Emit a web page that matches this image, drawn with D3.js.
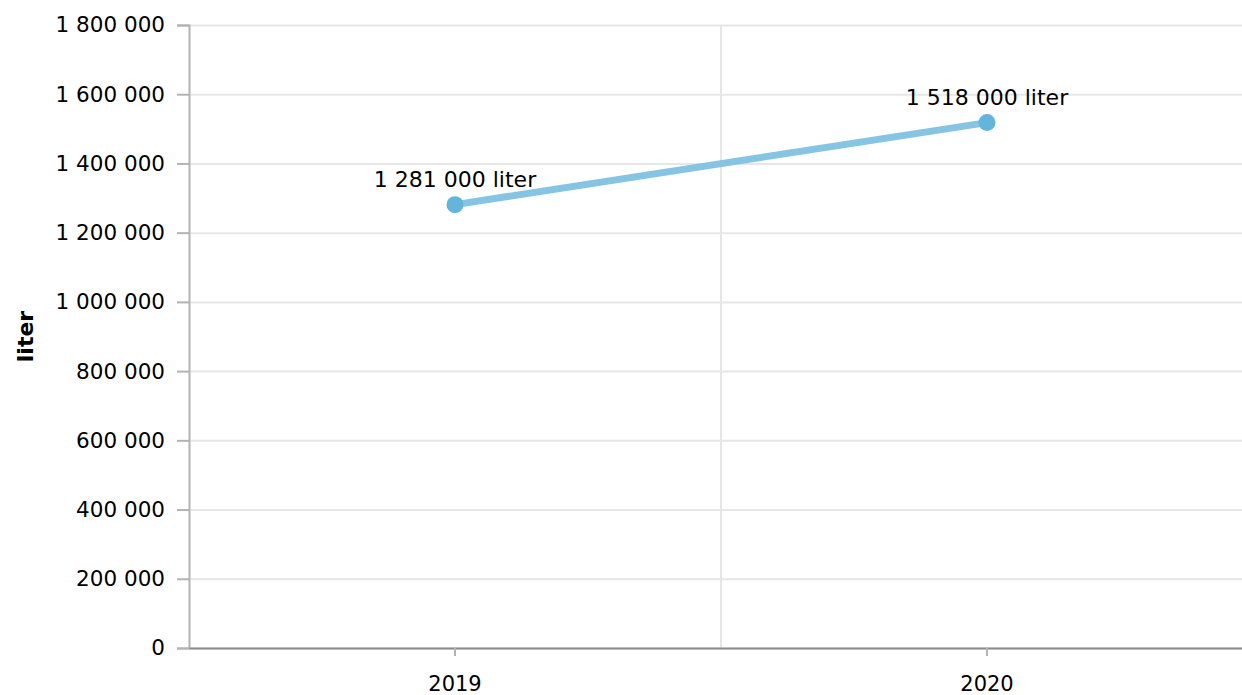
<!DOCTYPE html>
<html>
<head>
<meta charset="utf-8">
<script src="https://cdn.jsdelivr.net/npm/d3@7"></script>
<style>
  body { margin: 0; background: #fff; }
  svg, svg text { font-family: Verdana, "DejaVu Sans", sans-serif; }
  .grid line { stroke: #e6e6e6; stroke-width: 2; }
  .grid path { display: none; }
</style>
</head>
<body>
<div id="canvas"></div>
<script>
// data
var years = ['2019', '2020'];
var volumes = [1281000, 1518000];
var yTicks = [0, 200000, 400000, 600000, 800000, 1000000, 1200000, 1400000, 1600000, 1800000];
var unit = 'liter';

var outerWidth = 1242, outerHeight = 695;
var m = {t: 25, r: -11, b: 47, l: 189};
var w = outerWidth - m.l - m.r,
    h = outerHeight - m.t - m.b;

var svg = d3.select('#canvas')
    .append('svg')
    .attr('width', outerWidth)
    .attr('height', outerHeight);

var plot = svg.append('g')
    .attr('transform', 'translate(' + m.l + ',' + m.t + ')');

var loc = d3.formatLocale({decimal: ',', thousands: '\u00a0', grouping: [3], currency: ['', '']});
var fmt = loc.format(',d');

var scaleX = d3.scaleBand()
    .domain(years)
    .range([0, w]);
var scaleY = d3.scaleLinear()
    .domain([0, 1800000])
    .range([h, 0]);

// horizontal grid
plot.append('g')
    .attr('class', 'grid')
    .call(d3.axisLeft(scaleY).tickValues(yTicks).tickSize(-w).tickFormat(''));

// vertical grid at band boundaries
plot.selectAll('.vgrid')
    .data(years.slice(1))
    .enter()
    .append('line')
    .attr('class', 'vgrid')
    .attr('x1', function(d){ return scaleX(d); })
    .attr('x2', function(d){ return scaleX(d); })
    .attr('y1', 0)
    .attr('y2', h)
    .attr('stroke', '#e6e6e6')
    .attr('stroke-width', 2);

// y axis
var axisY = plot.append('g')
    .attr('class', 'axis axis-y')
    .call(d3.axisLeft(scaleY).tickValues(yTicks).tickSize(12).tickPadding(12).tickFormat(fmt));
axisY.attr('font-family', null).attr('font-size', null);
axisY.select('.domain').attr('stroke', '#b3b3b3').attr('stroke-width', 2);
axisY.selectAll('.tick line').attr('stroke', '#b3b3b3').attr('stroke-width', 2);
axisY.selectAll('.tick text').attr('fill', '#000').style('font-size', '21.5px');

// x axis
var axisX = plot.append('g')
    .attr('class', 'axis axis-x')
    .attr('transform', 'translate(0,' + h + ')')
    .call(d3.axisBottom(scaleX).tickSize(8).tickPadding(20).tickSizeOuter(0));
axisX.attr('font-family', null).attr('font-size', null);
axisX.select('.domain').attr('stroke', '#8c8c8c').attr('stroke-width', 2);
axisX.selectAll('.tick line').attr('stroke', '#b3b3b3').attr('stroke-width', 2);
axisX.selectAll('.tick text').attr('fill', '#000').style('font-size', '21px');

// y title
svg.append('text')
    .attr('transform', 'translate(33,' + (m.t + h / 2) + ') rotate(-90)')
    .attr('text-anchor', 'middle')
    .style('font-size', '22px')
    .style('font-weight', 'bold')
    .text(unit);

var pts = years.map(function(d, i){ return {year: d, value: volumes[i]}; });
var cx = function(d){ return scaleX(d.year) + scaleX.bandwidth() / 2; };

plot.append('path')
    .datum(pts)
    .attr('fill', 'none')
    .attr('stroke', '#85c5e3')
    .attr('stroke-width', 7)
    .attr('d', d3.line().x(cx).y(function(d){ return scaleY(d.value); }));

plot.selectAll('.dot')
    .data(pts)
    .enter()
    .append('circle')
    .attr('class', 'dot')
    .attr('cx', cx)
    .attr('cy', function(d){ return scaleY(d.value); })
    .attr('r', 8.5)
    .attr('fill', '#64b5dc');

plot.selectAll('.lbl')
    .data(pts)
    .enter()
    .append('text')
    .attr('class', 'lbl')
    .attr('x', cx)
    .attr('y', function(d){ return scaleY(d.value) - 18; })
    .attr('text-anchor', 'middle')
    .style('font-size', '22px')
    .text(function(d){ return fmt(d.value) + ' ' + unit; });
</script>
</body>
</html>
